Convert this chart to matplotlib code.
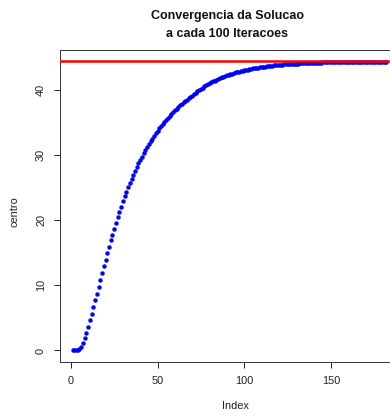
import matplotlib
matplotlib.use("Agg")
import matplotlib.pyplot as plt

plt.rcParams['font.family'] = ['Liberation Sans', 'DejaVu Sans']

# Values (index 1..182)
centro = [
    0.00, 0.00, 0.00, 0.05, 0.20, 0.60, 1.20, 1.90, 2.70, 3.60,
    4.60, 5.60, 6.60, 7.70, 8.70, 9.80, 10.80, 11.90, 12.90, 13.90,
    14.90, 15.90, 16.90, 17.80, 18.70, 19.60, 20.50, 21.30, 22.10, 22.90,
    23.64, 24.35, 25.04, 25.71, 26.35, 26.97, 27.57, 28.15, 28.71, 29.25,
    29.77, 30.27, 30.76, 31.23, 31.68, 32.12, 32.54, 32.95, 33.34, 33.72,
    34.09, 34.44, 34.79, 35.12, 35.44, 35.74, 36.04, 36.33, 36.61, 36.87,
    37.13, 37.38, 37.62, 37.86, 38.08, 38.30, 38.51, 38.71, 38.91, 39.10,
    39.33, 39.55, 39.77, 39.97, 40.17, 40.35, 40.53, 40.70, 40.86, 41.02,
    41.17, 41.31, 41.45, 41.58, 41.70, 41.82, 41.93, 42.04, 42.15, 42.24,
    42.34, 42.43, 42.52, 42.60, 42.68, 42.75, 42.83, 42.90, 42.96, 43.03,
    43.09, 43.14, 43.20, 43.25, 43.30, 43.35, 43.40, 43.44, 43.48, 43.52,
    43.56, 43.60, 43.63, 43.67, 43.70, 43.73, 43.76, 43.79, 43.81, 43.84,
    43.86, 43.89, 43.91, 43.93, 43.95, 43.97, 43.99, 44.01, 44.03, 44.04,
    44.06, 44.07, 44.09, 44.10, 44.11, 44.13, 44.14, 44.15, 44.16, 44.17,
    44.18, 44.19, 44.20, 44.21, 44.22, 44.23, 44.235, 44.24, 44.25, 44.255,
    44.26, 44.26, 44.27, 44.27, 44.28, 44.28, 44.29, 44.29, 44.30, 44.30,
    44.31, 44.31, 44.31, 44.32, 44.32, 44.32, 44.33, 44.33, 44.33, 44.33,
    44.34, 44.34, 44.34, 44.34, 44.35, 44.35, 44.35, 44.35, 44.35, 44.36,
    44.36, 44.36,
]
index = list(range(1, len(centro) + 1))
solucao = 44.4
x_ticks = [0, 50, 100, 150]
y_ticks = [0, 10, 20, 30, 40]
title_lines = ["Convergencia da Solucao", "a cada 100 Iteracoes"]

W, H = 390, 416
fig = plt.figure(figsize=(W / 100, H / 100), dpi=100)
left, right, top, bottom = 60, 399, 50, 362
ax = fig.add_axes([left / W, (H - bottom) / H, (right - left) / W, (bottom - top) / H])

ax.plot(index, centro, linestyle='none', marker='o', markersize=3.2,
        markeredgewidth=0, color='#0000ff', zorder=2)
ax.axhline(solucao, color='#ff0000', linewidth=1.8, zorder=3)

n = len(centro)
ext = 0.04 * (n - 1)
ax.set_xlim(1 - ext, n + ext)
ymin, ymax = min(centro), max(centro)
yext = 0.04 * (ymax - ymin)
ax.set_ylim(ymin - yext, ymax + yext)

ax.set_xticks(x_ticks)
ax.set_yticks(y_ticks)
ax.tick_params(axis='both', direction='out', length=4.5, width=0.7,
               colors='#222222', labelsize=7.9, labelcolor='#222222')
ax.tick_params(axis='x', pad=5.5)
ax.tick_params(axis='y', pad=5.5)
for lab in ax.get_yticklabels():
    lab.set_rotation(90)
    lab.set_va('center')
for s in ax.spines.values():
    s.set_linewidth(0.7)
    s.set_color('#333333')

fig.text(235 / W, 1 - 406 / H, "Index", ha='center', va='center',
         fontsize=7.9, color='#222222')
fig.text(15 / W, 1 - 212 / H, "centro", ha='center', va='center',
         rotation=90, fontsize=7.9, color='#222222')
fig.text(227 / W, 1 - 16 / H, title_lines[0], ha='center', va='center',
         fontsize=9, fontweight='bold', color='#111111')
fig.text(227 / W, 1 - 34 / H, title_lines[1], ha='center', va='center',
         fontsize=9, fontweight='bold', color='#111111')

fig.savefig("out.png", dpi=100)
